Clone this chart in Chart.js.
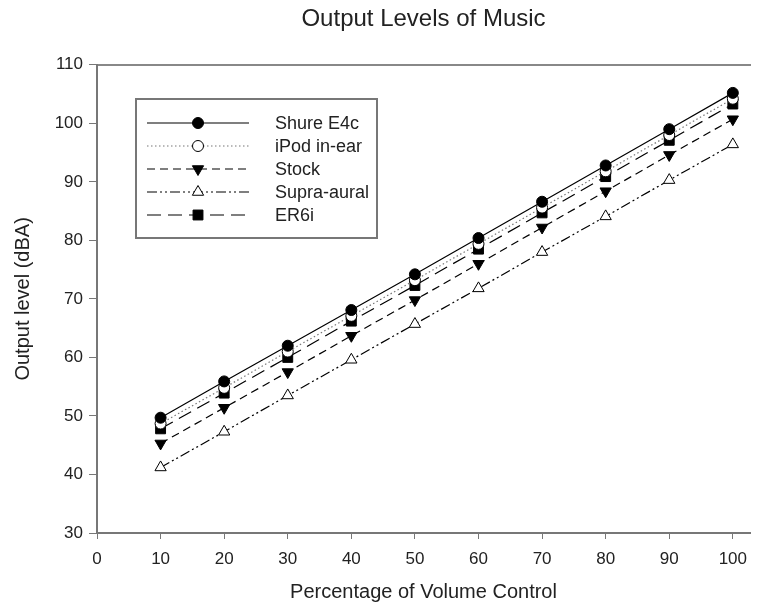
<!DOCTYPE html>
<html>
<head>
<meta charset="utf-8">
<script src="https://cdn.jsdelivr.net/npm/chart.js@4"></script>
<style>
  html, body { margin: 0; padding: 0; background: #fff; }
  #wrap { width: 758px; height: 606px; }
</style>
</head>
<body>
<div id="wrap"><canvas id="chart"></canvas></div>
<script>
// === DATA ===
let volume = [10, 20, 30, 40, 50, 60, 70, 80, 90, 100];
let shureE4c = [49.7, 55.9, 62.0, 68.1, 74.2, 80.4, 86.6, 92.8, 99.0, 105.2];
let ipodInEar = [48.7, 54.8, 61.0, 67.1, 73.2, 79.4, 85.6, 91.8, 98.0, 104.2];
let stock = [45.3, 51.4, 57.5, 63.7, 69.8, 76.0, 82.2, 88.4, 94.6, 100.7];
let supraAural = [41.2, 47.3, 53.5, 59.6, 65.7, 71.8, 78.0, 84.1, 90.3, 96.4];
let er6i = [47.8, 53.9, 60.0, 66.2, 72.3, 78.5, 84.7, 90.9, 97.1, 103.3];
let seriesNames = ["Shure E4c", "iPod in-ear", "Stock", "Supra-aural", "ER6i"];
let xTickValues = [0, 10, 20, 30, 40, 50, 60, 70, 80, 90, 100];

let font = "'Liberation Sans', Arial, sans-serif";

function pts(values) {
    return values.map((v, i) => ({ x: volume[i], y: v }));
}

// === DATASETS ===
let styles = [
    { dash: [], style: "circle", fill: "#000", rot: 0, r: 5.5 },
    { dash: [1.5, 2.5], style: "circle", fill: "#fff", rot: 0, r: 5.5 },
    { dash: [8, 5], style: "triangle", fill: "#000", rot: 180, r: 6.5 },
    { dash: [10, 3, 2, 3, 2, 3], style: "triangle", fill: "#fff", rot: 0, r: 6.5 },
    { dash: [14, 7], style: "rect", fill: "#000", rot: 0, r: 7 }
];
let allValues = [shureE4c, ipodInEar, stock, supraAural, er6i];

let datasets = allValues.map((vals, i) => ({
    label: seriesNames[i],
    data: pts(vals),
    borderColor: i === 1 ? "#777" : "#000",
    borderWidth: 1.2,
    borderDash: styles[i].dash,
    pointStyle: styles[i].style,
    pointRotation: styles[i].rot,
    pointRadius: styles[i].r,
    pointBackgroundColor: styles[i].fill,
    pointBorderColor: "#000",
    pointBorderWidth: 1,
    tension: 0,
    fill: false
}));

// === BOXED LEGEND WITH LINE + MARKER SAMPLES ===
let boxLegend = {
    id: "boxLegend",
    afterDraw(chart) {
        let ctx = chart.ctx;
        let left = 136, top = 99, right = 377, bottom = 238;
        ctx.save();
        ctx.strokeStyle = "#777";
        ctx.lineWidth = 2;
        ctx.strokeRect(left, top, right - left, bottom - top);
        let rows = [123, 146, 169, 192, 215];
        chart.data.datasets.forEach((ds, i) => {
            let y = rows[i];
            ctx.strokeStyle = ds.borderColor;
            ctx.lineWidth = ds.borderWidth;
            ctx.setLineDash(ds.borderDash);
            ctx.beginPath();
            ctx.moveTo(147, y);
            ctx.lineTo(249, y);
            ctx.stroke();
            ctx.setLineDash([]);
            ctx.fillStyle = ds.pointBackgroundColor;
            ctx.strokeStyle = "#000";
            ctx.lineWidth = 1;
            Chart.helpers.drawPoint(ctx, {
                pointStyle: ds.pointStyle,
                rotation: ds.pointRotation,
                radius: ds.pointRadius,
                borderWidth: 1
            }, 198, y);
            ctx.fillStyle = "#222";
            ctx.font = "18px " + font;
            ctx.textBaseline = "middle";
            ctx.fillText(ds.label, 275, y + 1);
        });
        ctx.restore();
    }
};

// === CHART ===
let ctx = document.getElementById("chart").getContext("2d");
let chart = new Chart(ctx, {
    type: "line",
    data: { datasets },
    plugins: [boxLegend],
    options: {
        responsive: true,
        maintainAspectRatio: false,
        animation: false,
        layout: { padding: 0 },
        plugins: {
            legend: { display: false },
            tooltip: { enabled: false },
            title: {
                display: true,
                text: "Output Levels of Music",
                fullSize: false,
                color: "#222",
                font: { family: font, size: 24, weight: "normal" },
                padding: { top: 5, bottom: 31 }
            }
        },
        scales: {
            x: {
                type: "linear",
                min: 0,
                max: 102.7,
                afterBuildTicks: (scale) => {
                    scale.ticks = xTickValues.map(v => ({ value: v }));
                },
                afterFit: (scale) => { scale.height = 73; },
                ticks: {
                    color: "#222",
                    padding: 10,
                    font: { family: font, size: 17 }
                },
                grid: {
                    drawOnChartArea: false,
                    drawTicks: true,
                    tickLength: 6,
                    color: "#777"
                },
                border: { color: "#777", width: 2 },
                title: {
                    display: true,
                    text: "Percentage of Volume Control",
                    color: "#222",
                    font: { family: font, size: 20 },
                    padding: { top: 4, bottom: 2 }
                }
            },
            xTop: {
                type: "linear",
                position: "top",
                min: 0,
                max: 102.7,
                ticks: { display: false },
                grid: { display: false },
                border: { display: true, color: "#888", width: 2 },
                afterFit: (scale) => { scale.height = 0; }
            },
            y: {
                min: 30,
                max: 110,
                afterFit: (scale) => { scale.width = 97; },
                ticks: {
                    stepSize: 10,
                    color: "#222",
                    padding: 6,
                    font: { family: font, size: 17 }
                },
                grid: {
                    drawOnChartArea: false,
                    drawTicks: true,
                    tickLength: 8,
                    color: "#777"
                },
                border: { color: "#777", width: 2 },
                title: {
                    display: true,
                    text: "Output level (dBA)",
                    color: "#222",
                    font: { family: font, size: 20 },
                    padding: { top: 11, bottom: 0 }
                }
            }
        }
    }
});
</script>
</body>
</html>
